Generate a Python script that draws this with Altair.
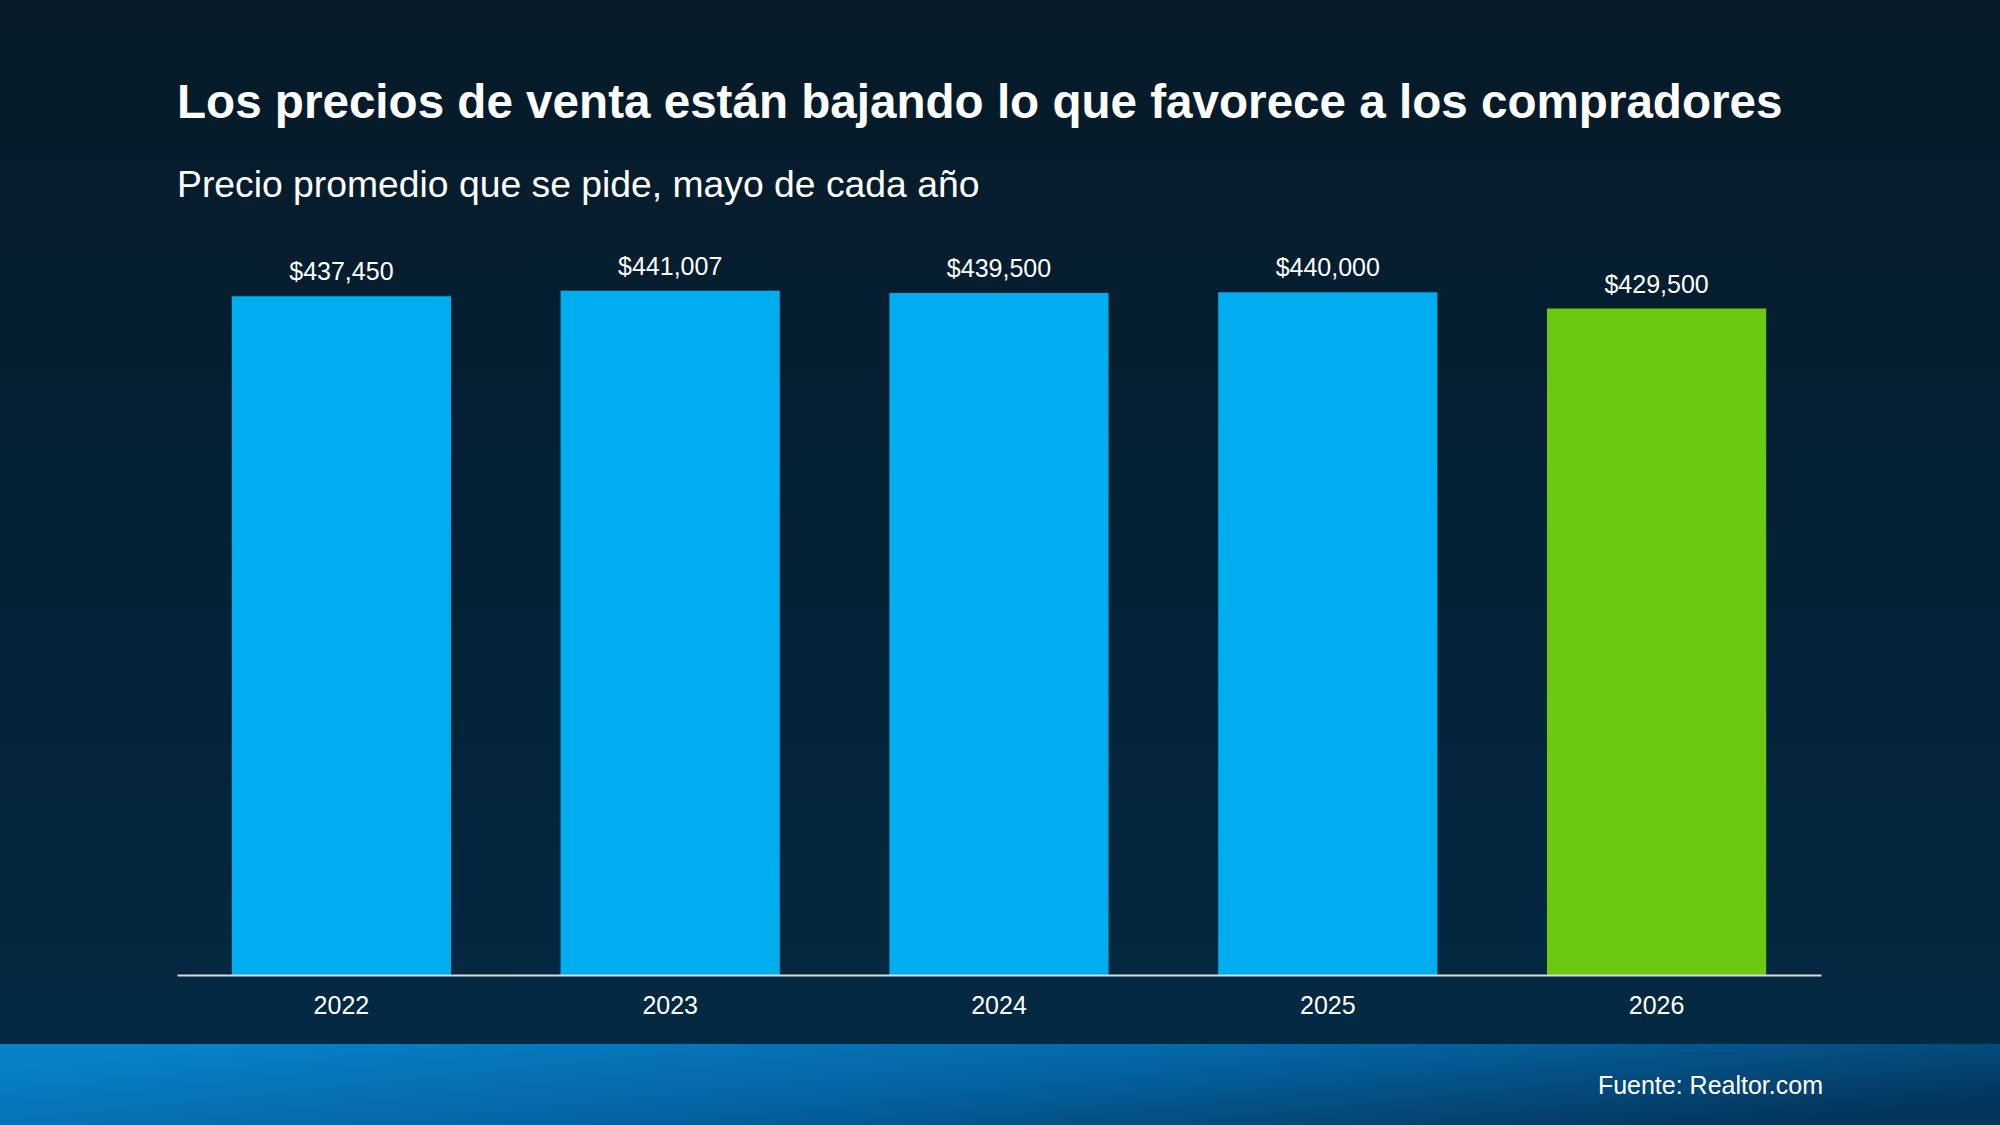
import altair as alt
import pandas as pd

# ---- data ----
years = ["2022", "2023", "2024", "2025", "2026"]
prices = [437450, 441007, 439500, 440000, 429500]

title_text = "Los precios de venta están bajando lo que favorece a los compradores"
subtitle_text = "Precio promedio que se pide, mayo de cada año"
source_text = "Fuente: Realtor.com"

# ---- style ----
BAR_COLORS = ["#00aeef", "#00aeef", "#00aeef", "#00aeef", "#6cc912"]
FONT = "Liberation Sans"
W, H = 1644, 699
PAD_L, PAD_T = 177, 276

df = pd.DataFrame({"year": years, "price": prices})
one = pd.DataFrame({"k": [0]})

bg = alt.Chart(one).mark_rect(
    color={
        "gradient": "linear",
        "x1": 0, "y1": 0, "x2": 0, "y2": 1,
        "stops": [
            {"offset": 0, "color": "#061a28"},
            {"offset": 1, "color": "#032a44"},
        ],
    }
).encode(
    x=alt.value(-PAD_L), x2=alt.value(2000 - PAD_L),
    y=alt.value(-PAD_T), y2=alt.value(1125 - PAD_T),
)

footer = alt.Chart(one).mark_rect(
    color={
        "gradient": "linear",
        "x1": 0, "y1": 0.3, "x2": 1, "y2": 0.7,
        "stops": [
            {"offset": 0, "color": "#0880c7"},
            {"offset": 0.5, "color": "#0462a0"},
            {"offset": 1, "color": "#03355a"},
        ],
    }
).encode(
    x=alt.value(-PAD_L), x2=alt.value(2000 - PAD_L),
    y=alt.value(1044 - PAD_T), y2=alt.value(1125 - PAD_T),
)

xenc = alt.X(
    "year:N",
    sort=years,
    scale=alt.Scale(paddingInner=1 / 3, paddingOuter=1 / 6),
    axis=alt.Axis(
        title=None, labelAngle=0, labelFont=FONT, labelFontSize=25,
        labelColor="#ffffff", domainColor="#d9d9d9", domainWidth=2,
        ticks=False, tickSize=0, labelPadding=38, labelBaseline="alphabetic",
        grid=False, zindex=1,
    ),
)
yenc = alt.Y("price:Q", scale=alt.Scale(domain=[0, 450500], nice=False), axis=None)

bars = alt.Chart(df).mark_bar().encode(
    x=xenc,
    y=yenc,
    color=alt.Color("year:N", scale=alt.Scale(domain=years, range=BAR_COLORS), legend=None),
)

labels = alt.Chart(df).mark_text(
    font=FONT, fontSize=25, color="#ffffff", baseline="alphabetic", dy=-16
).encode(
    x=alt.X("year:N", sort=years),
    y=yenc,
    text=alt.Text("price:Q", format="$,.0f"),
)

title = alt.Chart(pd.DataFrame({"t": [title_text]})).mark_text(
    font=FONT, fontSize=47.6, fontWeight="bold", color="#ffffff",
    align="left", baseline="alphabetic",
).encode(x=alt.value(0), y=alt.value(118 - PAD_T), text="t:N")

subtitle = alt.Chart(pd.DataFrame({"t": [subtitle_text]})).mark_text(
    font=FONT, fontSize=37.3, color="#ffffff",
    align="left", baseline="alphabetic",
).encode(x=alt.value(0), y=alt.value(197 - PAD_T), text="t:N")

source = alt.Chart(pd.DataFrame({"t": [source_text]})).mark_text(
    font=FONT, fontSize=25, color="#ffffff",
    align="right", baseline="alphabetic",
).encode(x=alt.value(1823 - PAD_L), y=alt.value(1094 - PAD_T), text="t:N")

chart = alt.layer(bg, footer, bars, labels, title, subtitle, source).properties(
    width=W, height=H,
    autosize=alt.AutoSizeParams(type="none"),
    padding={"left": PAD_L, "top": PAD_T, "right": 2000 - PAD_L - W, "bottom": 1125 - PAD_T - H},
    background="#05213a",
).configure_view(stroke=None)

chart.save("out.html", embed_options={"renderer": "svg", "actions": False})
